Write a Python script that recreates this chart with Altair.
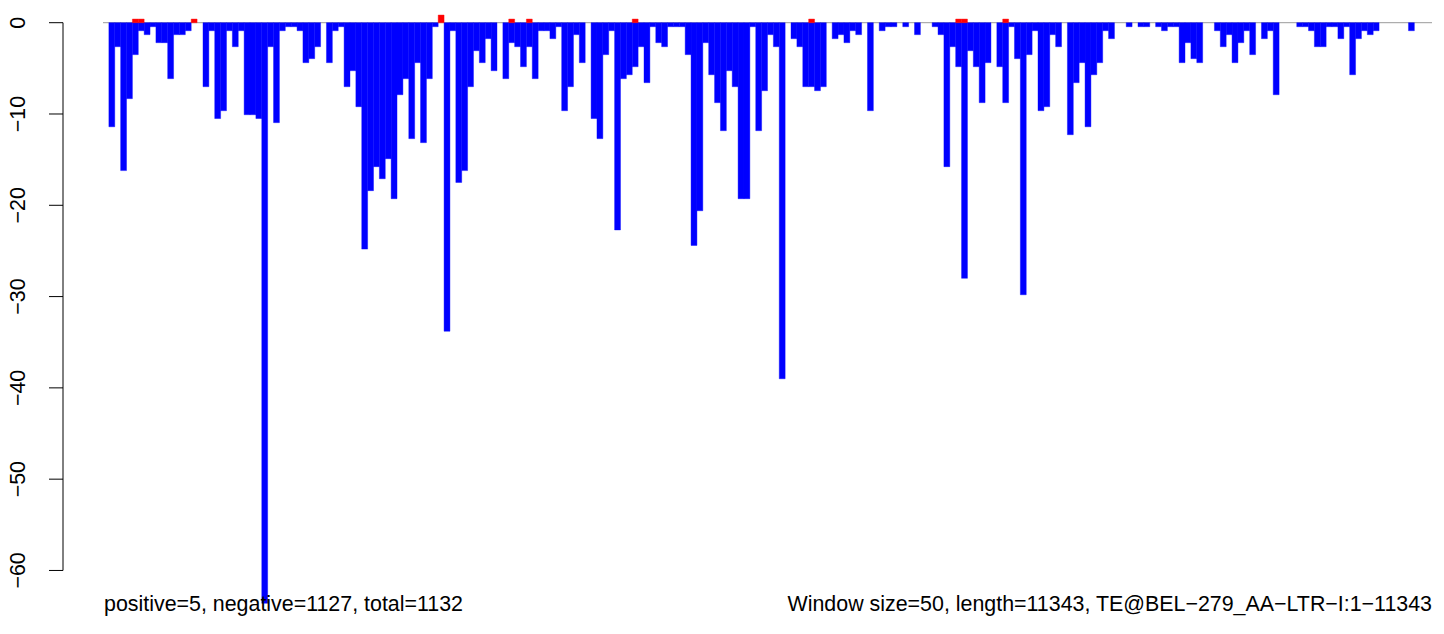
import altair as alt
import pandas as pd

# negative score per window (blue bars), one entry per window
neg_values = [
    0, -11.4, -2.63, -16.2, -8.32, -3.5, -0.88, -1.31, -0.44, -2.19,
    -2.19, -6.13, -1.31, -1.31, -0.88, 0, 0, -7.01, -0.88, -10.5,
    -9.64, -0.88, -2.63, -0.88, -10.08, -10.08, -10.5, -63.6, -2.63, -10.95,
    -0.88, -0.44, -0.44, -0.88, -4.38, -3.94, -2.63, 0, -4.38, -0.88,
    -0.44, -7.01, -5.26, -9.2, -24.8, -18.4, -15.77, -17.09, -14.9, -19.28,
    -7.89, -6.13, -12.7, -4.38, -13.14, -6.13, -0.44, 0, -33.8, -0.88,
    -17.5, -16.2, -7.01, -3.07, -4.38, -1.75, -5.26, 0, -6.13, -2.19,
    -2.63, -4.82, -2.63, -6.13, -0.88, -0.88, -1.75, -0.44, -9.64, -7.01,
    -1.31, -4.38, 0, -10.5, -12.7, -3.5, -0.88, -22.7, -6.13, -5.7,
    -4.82, -2.63, -6.57, -0.44, -2.19, -2.63, -0.44, -0.44, -0.44, -3.5,
    -24.4, -20.6, -2.19, -5.7, -8.76, -11.83, -5.26, -7.01, -19.28, -19.28,
    -0.44, -11.83, -7.45, -1.31, -2.63, -39.0, 0, -1.75, -2.63, -7.01,
    -7.01, -7.45, -7.01, 0, -1.75, -1.31, -2.19, -0.88, -1.31, 0,
    -9.64, 0, -0.88, -0.44, -0.44, 0, -0.44, 0, -1.31, 0,
    0, -0.44, -1.31, -15.77, -2.63, -4.82, -28.0, -3.07, -4.82, -8.76,
    -4.38, 0, -4.82, -8.76, -0.44, -3.94, -29.8, -3.5, -0.88, -9.64,
    -9.2, -1.31, -2.63, 0, -12.27, -6.57, -4.38, -11.4, -5.7, -4.38,
    -0.88, -1.75, 0, 0, -0.44, 0, -0.44, -0.44, 0, -0.44,
    -0.88, -0.44, -0.44, -4.38, -2.19, -3.94, -4.38, 0, 0, -0.88,
    -2.63, -1.31, -4.38, -2.19, -0.88, -3.5, 0, -1.75, -0.88, -7.89,
    0, 0, 0, -0.44, -0.44, -0.88, -2.63, -2.63, -0.44, -0.44,
    -1.75, -0.44, -5.7, -1.75, -0.88, -1.31, -0.88, 0, 0, 0,
    0, 0, -0.88, 0, 0, 0,
]

# positive score windows (red bars)
pos_index = [5, 6, 15, 57, 69, 72, 90, 120, 145, 146, 153]
pos_values = [0.4, 0.4, 0.4, 0.84, 0.4, 0.4, 0.4, 0.4, 0.4, 0.4, 0.4]

y_ticks = [0, -10, -20, -30, -40, -50, -60]
y_tick_labels = ["0", "\u221210", "\u221220", "\u221230", "\u221240", "\u221250", "\u221260"]

left_note = "positive=5, negative=1127, total=1132"
right_note = "Window size=50, length=11343, TE@BEL\u2212279_AA\u2212LTR\u2212I:1\u221211343"

N = len(neg_values)
W, H = 1329, 598
FONT = "Liberation Sans"
FS = 21.4

x_scale = alt.Scale(domain=[0, N], nice=False, zero=False)
y_scale = alt.Scale(domain=[-64.55, 0.953], nice=False, zero=False)

neg_df = pd.DataFrame({
    "k": list(range(N)),
    "k1": [i + 1 for i in range(N)],
    "v": neg_values,
    "zero": [0] * N,
})
pos_df = pd.DataFrame({
    "k": pos_index,
    "k1": [i + 1 for i in pos_index],
    "v": pos_values,
    "zero": [0] * len(pos_index),
})
tick_df = pd.DataFrame({"v": y_ticks, "label": y_tick_labels})

zero_line = alt.Chart(pd.DataFrame({"x": [0], "x2": [N], "y": [0]})).mark_rule(
    color="#9a9a9a", strokeWidth=1
).encode(
    x=alt.X("x:Q", scale=x_scale, axis=None),
    x2="x2:Q",
    y=alt.Y("y:Q", scale=y_scale, axis=None),
)

blue = alt.Chart(neg_df).transform_filter("datum.v < 0").mark_rect(
    color="#0000ff", stroke="#0000ff", strokeWidth=0.4
).encode(
    x=alt.X("k:Q", scale=x_scale, axis=None),
    x2="k1:Q",
    y=alt.Y("v:Q", scale=y_scale, axis=None),
    y2="zero:Q",
)

red = alt.Chart(pos_df).mark_rect(
    color="#ff0000", stroke="#ff0000", strokeWidth=0.4
).encode(
    x=alt.X("k:Q", scale=x_scale, axis=None),
    x2="k1:Q",
    y=alt.Y("v:Q", scale=y_scale, axis=None),
    y2="zero:Q",
)

axis_line = alt.Chart(pd.DataFrame({"a": [y_ticks[0]], "b": [y_ticks[-1]]})).mark_rule(
    color="black", strokeWidth=1
).encode(
    x=alt.value(-40),
    y=alt.Y("a:Q", scale=y_scale, axis=None),
    y2="b:Q",
)

axis_ticks = alt.Chart(tick_df).mark_rule(color="black", strokeWidth=1).encode(
    x=alt.value(-54),
    x2=alt.value(-40),
    y=alt.Y("v:Q", scale=y_scale, axis=None),
)

axis_labels = alt.Chart(tick_df).mark_text(
    font=FONT, fontSize=FS, angle=270, align="center", baseline="middle", color="black"
).encode(
    x=alt.value(-84),
    y=alt.Y("v:Q", scale=y_scale, axis=None),
    text="label:N",
)

left_text = alt.Chart(pd.DataFrame({"t": [left_note]})).mark_text(
    font=FONT, fontSize=FS, align="left", baseline="middle", color="black"
).encode(x=alt.value(1), y=alt.value(591), text="t:N")

right_text = alt.Chart(pd.DataFrame({"t": [right_note]})).mark_text(
    font=FONT, fontSize=FS, align="right", baseline="middle", color="black"
).encode(x=alt.value(W), y=alt.value(591), text="t:N")

chart = alt.layer(
    zero_line, blue, red, axis_line, axis_ticks, axis_labels, left_text, right_text
).properties(
    width=W,
    height=H,
    autosize=alt.AutoSizeParams(type="none"),
    padding={"left": 95, "top": 6, "right": 0, "bottom": 6},
    background="white",
).configure_view(strokeWidth=0)

chart.save("out.html", embed_options={"renderer": "svg", "actions": False})
